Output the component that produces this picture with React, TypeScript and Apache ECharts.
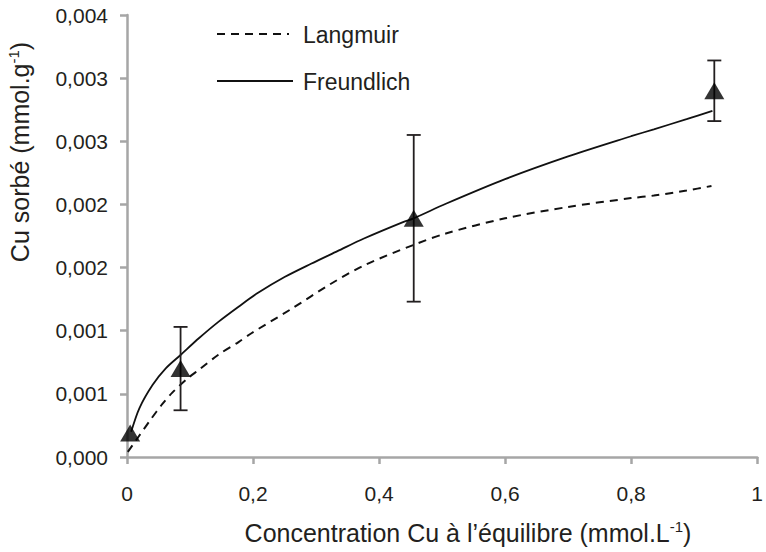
import React, { useEffect, useRef } from "react";
import * as echarts from "echarts";

// Tick labels (Excel-style rounded labels)
const xTickLabels = ["0", "0,2", "0,4", "0,6", "0,8", "1"];
const yTickLabels = ["0,000", "0,001", "0,001", "0,002", "0,002", "0,003", "0,003", "0,004"];

// Measured points (triangles) with error bars
const pointsX = [0.005, 0.085, 0.455, 0.932];
const pointsY = [0.00019, 0.0007, 0.00189, 0.0029];
const pointsErr = [0, 0.00033, 0.00066, 0.00024];

// Freundlich fit (solid line)
const freundX = [0.0066, 0.0196, 0.0405, 0.0615, 0.085, 0.114, 0.145, 0.177, 0.208, 0.25, 0.292, 0.334, 0.376, 0.438, 0.455, 0.506, 0.6, 0.7, 0.8, 0.836, 0.888, 0.929];
const freundY = [0.0002, 0.000386, 0.00057, 0.000702, 0.000808, 0.00094, 0.00107, 0.00119, 0.0013, 0.001425, 0.00153, 0.00163, 0.00173, 0.00186, 0.00189, 0.002005, 0.0022, 0.00238, 0.00254, 0.002595, 0.002675, 0.00274];

// Langmuir fit (dashed line)
const langX = [0.0013, 0.0196, 0.038, 0.0562, 0.0719, 0.098, 0.114, 0.145, 0.177, 0.1975, 0.26, 0.323, 0.3775, 0.455, 0.506, 0.6, 0.7, 0.8, 0.836, 0.888, 0.9275];
const langY = [0.00004, 0.00017, 0.0003, 0.00042, 0.00051, 0.00063, 0.00069, 0.00081, 0.00091, 0.00098, 0.00117, 0.00137, 0.00152, 0.00168, 0.00177, 0.00189, 0.00198, 0.00205, 0.00207, 0.00211, 0.002146];

const FONT = "'Liberation Sans', Arial, Helvetica, sans-serif";
const TEXT = "#231f20";
const AXIS = "#a6a6a6";

export default function App() {
  const ref = useRef<HTMLDivElement>(null);

  useEffect(() => {
    if (!ref.current) return;
    const chart = echarts.init(ref.current, undefined, { renderer: "svg" });

    const errData = pointsX
      .map((x, i) => [x, pointsY[i] - pointsErr[i], pointsY[i] + pointsErr[i], pointsErr[i]])
      .filter((d) => d[3] > 0);

    chart.setOption({
      animation: false,
      backgroundColor: "#ffffff",
      textStyle: { fontFamily: FONT },
      grid: { left: 127, right: 2, top: 15, bottom: 95 },
      xAxis: {
        type: "value",
        min: 0,
        max: 1,
        interval: 0.2,
        splitLine: { show: false },
        axisLine: { lineStyle: { color: AXIS, width: 2.5 } },
        axisTick: { show: true, length: 7, lineStyle: { color: AXIS, width: 2.5 } },
        axisLabel: {
          fontSize: 21,
          color: TEXT,
          fontFamily: FONT,
          margin: 26,
          formatter: (v: number) => xTickLabels[Math.round(v / 0.2)] ?? "",
        },
      },
      yAxis: {
        type: "value",
        min: 0,
        max: 0.0035,
        interval: 0.0005,
        splitLine: { show: false },
        axisLine: { show: true, lineStyle: { color: AXIS, width: 2.5 } },
        axisTick: { show: true, length: 7, lineStyle: { color: AXIS, width: 2.5 } },
        axisLabel: {
          fontSize: 21,
          color: TEXT,
          fontFamily: FONT,
          margin: 19,
          formatter: (v: number) => yTickLabels[Math.round(v / 0.0005)] ?? "",
        },
      },
      graphic: [
        {
          type: "line",
          shape: { x1: 217, y1: 34, x2: 289, y2: 34 },
          style: { stroke: "#111", lineWidth: 2, lineDash: [8, 6] },
        },
        {
          type: "line",
          shape: { x1: 217, y1: 81, x2: 293, y2: 81 },
          style: { stroke: "#111", lineWidth: 1.8 },
        },
        {
          type: "text",
          x: 303,
          y: 35,
          style: { text: "Langmuir", font: `23px ${FONT}`, fill: TEXT, verticalAlign: "middle", align: "left" },
        },
        {
          type: "text",
          x: 303,
          y: 82,
          style: { text: "Freundlich", font: `23px ${FONT}`, fill: TEXT, verticalAlign: "middle", align: "left" },
        },
        {
          type: "text",
          x: 468,
          y: 533,
          style: {
            text: "Concentration Cu à l’équilibre (mmol.L{sup|-1})",
            font: `25px ${FONT}`,
            fontSize: 25,
            fontFamily: FONT,
            fill: TEXT,
            align: "center",
            verticalAlign: "middle",
            rich: {
              sup: { fontSize: 15, fontFamily: FONT, fill: TEXT, verticalAlign: "top", lineHeight: 28 },
            },
          },
        },
        {
          type: "text",
          x: 20,
          y: 152,
          rotation: Math.PI / 2,
          style: {
            text: "Cu sorbé (mmol.g{sup|-1})",
            font: `25px ${FONT}`,
            fontSize: 25,
            fontFamily: FONT,
            fill: TEXT,
            align: "center",
            verticalAlign: "middle",
            rich: {
              sup: { fontSize: 15, fontFamily: FONT, fill: TEXT, verticalAlign: "top", lineHeight: 28 },
            },
          },
        },
      ],
      series: [
        {
          name: "Langmuir",
          type: "line",
          data: langX.map((x, i) => [x, langY[i]]),
          showSymbol: false,
          symbol: "none",
          smooth: 0.3,
          lineStyle: { color: "#111", width: 2, type: [8, 6] },
          z: 2,
        },
        {
          name: "Freundlich",
          type: "line",
          data: freundX.map((x, i) => [x, freundY[i]]),
          showSymbol: false,
          symbol: "none",
          smooth: 0.3,
          lineStyle: { color: "#111", width: 1.8 },
          z: 3,
        },
        {
          name: "errors",
          type: "custom",
          data: errData,
          z: 4,
          renderItem: (params: any, api: any) => {
            const x = api.value(0);
            const top = api.coord([x, api.value(2)]);
            const bot = api.coord([x, api.value(1)]);
            const half = 7;
            const st = { stroke: "#231f20", lineWidth: 1.8 };
            return {
              type: "group",
              children: [
                { type: "line", shape: { x1: top[0], y1: top[1], x2: bot[0], y2: bot[1] }, style: st },
                { type: "line", shape: { x1: top[0] - half, y1: top[1], x2: top[0] + half, y2: top[1] }, style: st },
                { type: "line", shape: { x1: bot[0] - half, y1: bot[1], x2: bot[0] + half, y2: bot[1] }, style: st },
              ],
            };
          },
        },
        {
          name: "Mesures",
          type: "scatter",
          data: pointsX.map((x, i) => [x, pointsY[i]]),
          symbol: "triangle",
          symbolSize: [20, 17],
          itemStyle: { color: "#000" },
          z: 5,
        },
      ],
    });

    return () => chart.dispose();
  }, []);

  return (
    <div
      ref={ref}
      style={{ position: "fixed", left: 0, top: 0, width: 766, height: 552, background: "#fff" }}
    />
  );
}
